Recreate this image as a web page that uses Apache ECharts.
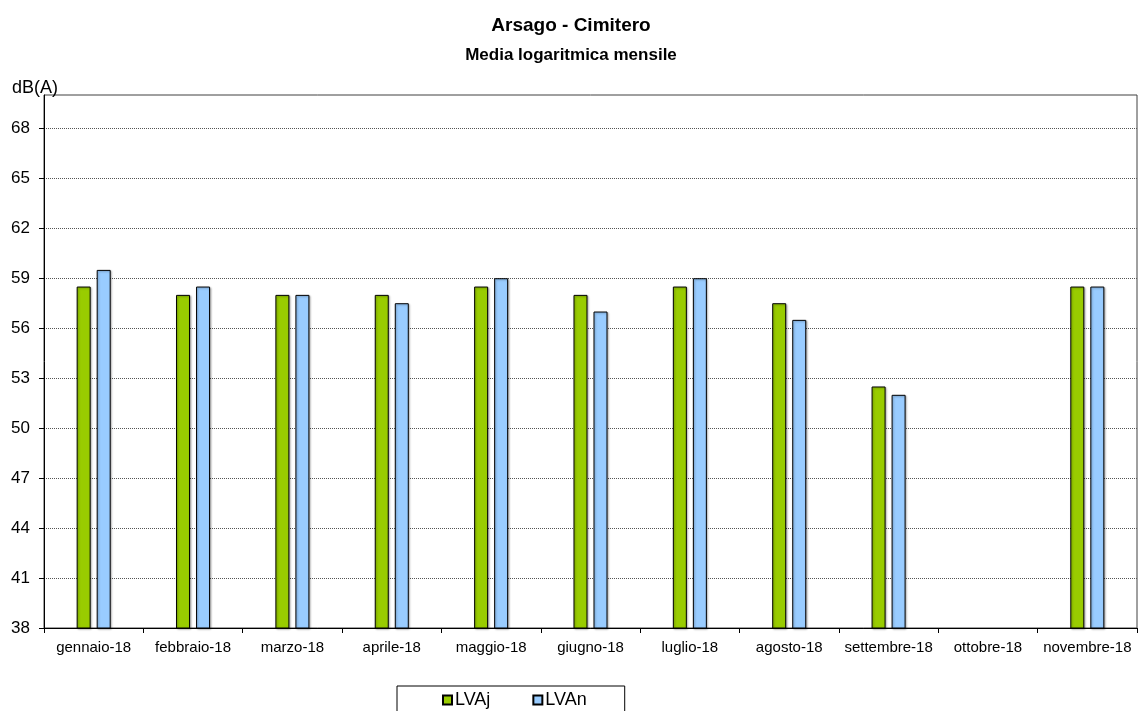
<!DOCTYPE html>
<html>
<head>
<meta charset="utf-8">
<script src="https://cdn.jsdelivr.net/npm/echarts@6/dist/echarts.min.js"></script>
<style>
  html, body { margin: 0; padding: 0; background: #fff; }
  #chart { width: 1142px; height: 711px; }
</style>
</head>
<body>
<div id="chart"></div>
<script>
const months = ["gennaio-18", "febbraio-18", "marzo-18", "aprile-18", "maggio-18", "giugno-18",
  "luglio-18", "agosto-18", "settembre-18", "ottobre-18", "novembre-18"];
const lvaj = [58.5, 58, 58, 58, 58.5, 58, 58.5, 57.5, 52.5, null, 58.5];
const lvan = [59.5, 58.5, 58, 57.5, 59, 57, 59, 56.5, 52, null, 58.5];
const yTicks = [38, 41, 44, 47, 50, 53, 56, 59, 62, 65, 68];

const font = "Liberation Sans, Arial, sans-serif";
const chart = echarts.init(document.getElementById("chart"));

const barStyle = (color) => ({
  color: color,
  borderColor: "#000",
  borderWidth: 1,
  shadowColor: "rgba(0,0,0,0.3)",
  shadowBlur: 2,
  shadowOffsetX: 1,
  shadowOffsetY: 1
});

chart.setOption({
  animation: false,
  title: [
    {
      text: "Arsago - Cimitero",
      left: "center",
      top: 11,
      textStyle: { fontFamily: font, fontSize: 19, fontWeight: "bold", color: "#000" }
    },
    {
      text: "Media logaritmica mensile",
      left: "center",
      top: 42,
      textStyle: { fontFamily: font, fontSize: 17, fontWeight: "bold", color: "#000" }
    },
    {
      text: "dB(A)",
      left: 7,
      top: 74,
      textStyle: { fontFamily: font, fontSize: 18, fontWeight: "normal", color: "#000" }
    }
  ],
  legend: {
    left: 397,
    top: 686,
    itemWidth: 9,
    itemHeight: 9,
    itemGap: 42,
    padding: [5, 38, 12, 45],
    borderColor: "#000",
    borderWidth: 1,
    textStyle: { fontFamily: font, fontSize: 18, color: "#000", padding: [0, 0, 0, -2] },
    data: [
      { name: "LVAj", icon: "rect" },
      { name: "LVAn", icon: "rect" }
    ]
  },
  grid: {
    left: 44,
    right: 5,
    top: 95,
    bottom: 83,
    show: true,
    borderColor: "#404040",
    borderWidth: 1
  },
  xAxis: {
    type: "category",
    data: months,
    axisLine: { lineStyle: { color: "#000", width: 1 } },
    axisTick: { show: true, length: 5, alignWithLabel: false, lineStyle: { color: "#000" } },
    axisLabel: { fontFamily: font, fontSize: 15, color: "#000", margin: 12, interval: 0 }
  },
  yAxis: {
    type: "value",
    min: 38,
    max: 70,
    axisLine: { show: true, lineStyle: { color: "#000", width: 1 } },
    axisTick: { show: true, length: 5, customValues: yTicks, lineStyle: { color: "#000" } },
    axisLabel: { fontFamily: font, fontSize: 17, color: "#000", margin: 14, customValues: yTicks },
    splitLine: { show: true, lineStyle: { color: "#555", type: [1, 1], width: 1 } }
  },
  series: [
    {
      name: "LVAj",
      type: "bar",
      data: lvaj,
      barWidth: 14,
      barGap: "43%",
      itemStyle: barStyle("#99CC00")
    },
    {
      name: "LVAn",
      type: "bar",
      data: lvan,
      barWidth: 14,
      itemStyle: barStyle("#99CCFF")
    }
  ]
});
</script>
</body>
</html>
